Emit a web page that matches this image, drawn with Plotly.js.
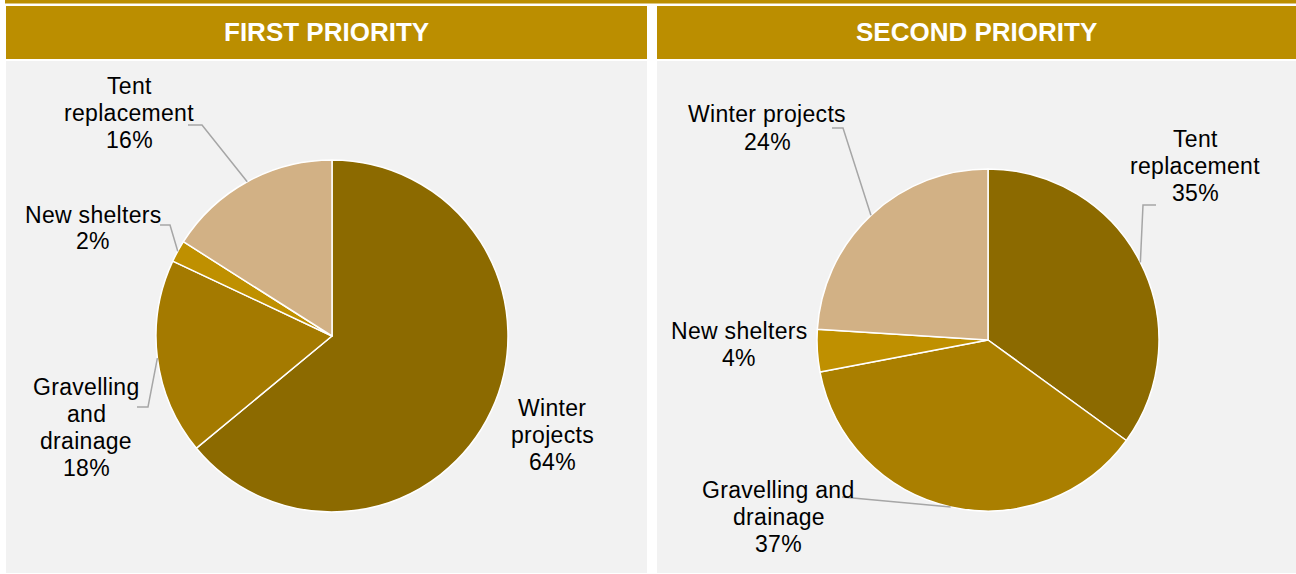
<!DOCTYPE html>
<html>
<head>
<meta charset="utf-8">
<script src="https://cdn.plot.ly/plotly-3.0.1.min.js"></script>
<style>html,body{margin:0;padding:0;background:#fff;}#chart{width:1296px;height:574px;}</style>
</head>
<body>
<div id="chart"></div>
<script>
// ---- Data ----
const categoriesFirst = ['Winter projects', 'Gravelling and drainage', 'New shelters', 'Tent replacement'];
const valuesFirst = [64, 18, 2, 16];
const labelLinesFirst = [['Winter', 'projects'], ['Gravelling', 'and', 'drainage'], ['New shelters'], ['Tent', 'replacement']];

const categoriesSecond = ['Tent replacement', 'Gravelling and drainage', 'New shelters', 'Winter projects'];
const valuesSecond = [35, 37, 4, 24];
const labelLinesSecond = [['Tent', 'replacement'], ['Gravelling and', 'drainage'], ['New shelters'], ['Winter projects']];

const panelTitles = ['FIRST PRIORITY', 'SECOND PRIORITY'];

// ---- Layout constants (pixels) ----
const W = 1296, H = 574;
const px = x => x / W;
const py = y => 1 - y / H;

const colorsFirst = ['#8C6A00', '#A47A00', '#BF9000', '#D2B185'];
const colorsSecond = ['#8C6A00', '#AA7F00', '#BF9000', '#D2B185'];
const gold = '#BB8E00';
const panelGray = '#F2F2F2';
const lineGray = '#A6A6A6';
const fontFam = 'Liberation Sans, Arial, sans-serif';
const lineStep = 27;

const pies = [
  {cx: 332, cy: 336, r: 176, cats: categoriesFirst, vals: valuesFirst, lines: labelLinesFirst, colors: colorsFirst,
   labelPos: [[552, 435], [86, 427], [93, 228], [129, 113]],
   leader: [null, [[137, 407], [148, 407]], [[160, 225], [170, 225]], [[188, 125], [202, 125]]]},
  {cx: 988, cy: 340, r: 171, cats: categoriesSecond, vals: valuesSecond, lines: labelLinesSecond, colors: colorsSecond,
   labelPos: [[1195, 166], [779, 517], [739, 344], [767, 128]],
   leader: [[[1156, 205], [1143, 205]], [[842, 497]], null, [[832, 128], [843, 128]]]}
];

const traces = pies.map(p => ({
  type: 'pie',
  labels: p.cats,
  values: p.vals,
  sort: false,
  direction: 'clockwise',
  rotation: 0,
  textinfo: 'none',
  hoverinfo: 'label+percent',
  marker: {colors: p.colors, line: {color: '#FFFFFF', width: 1.5}},
  domain: {x: [px(p.cx - p.r), px(p.cx + p.r)], y: [py(p.cy + p.r), py(p.cy - p.r)]}
}));

const shapes = [
  {type: 'rect', xref: 'paper', yref: 'paper', x0: px(5), x1: px(1296), y0: py(3.5), y1: py(0), fillcolor: gold, line: {width: 0}, layer: 'below'},
  {type: 'rect', xref: 'paper', yref: 'paper', x0: px(6), x1: px(647), y0: py(59), y1: py(6), fillcolor: gold, line: {width: 0}, layer: 'below'},
  {type: 'rect', xref: 'paper', yref: 'paper', x0: px(657), x1: px(1296), y0: py(59), y1: py(6), fillcolor: gold, line: {width: 0}, layer: 'below'},
  {type: 'rect', xref: 'paper', yref: 'paper', x0: px(6), x1: px(647), y0: py(573), y1: py(61), fillcolor: panelGray, line: {width: 0}, layer: 'below'},
  {type: 'rect', xref: 'paper', yref: 'paper', x0: px(657), x1: px(1296), y0: py(573), y1: py(61), fillcolor: panelGray, line: {width: 0}, layer: 'below'}
];

const annotations = [
  {text: '<b>' + panelTitles[0] + '</b>', x: px(326.5), y: py(32), xref: 'paper', yref: 'paper', showarrow: false,
   xanchor: 'center', yanchor: 'middle', font: {family: fontFam, size: 26, color: '#FFFFFF'}},
  {text: '<b>' + panelTitles[1] + '</b>', x: px(976.5), y: py(32), xref: 'paper', yref: 'paper', showarrow: false,
   xanchor: 'center', yanchor: 'middle', font: {family: fontFam, size: 26, color: '#FFFFFF'}}
];

pies.forEach(p => {
  const total = p.vals.reduce((a, b) => a + b, 0);
  let cum = 0;
  p.vals.forEach((v, i) => {
    const mid = (cum + v / 2) / total * 2 * Math.PI;
    cum += v;
    const ex = p.cx + p.r * Math.sin(mid);
    const ey = p.cy - p.r * Math.cos(mid);
    const pct = Math.round(v / total * 100) + '%';
    const lines = p.lines[i].concat([pct]);
    const n = lines.length;
    lines.forEach((t, k) => {
      const ly = p.labelPos[i][1] + (k - (n - 1) / 2) * lineStep;
      annotations.push({
        text: '<span style="letter-spacing:0.3px">' + t + '</span>',
        x: px(p.labelPos[i][0]), y: py(ly), xref: 'paper', yref: 'paper',
        showarrow: false, xanchor: 'center', yanchor: 'middle', align: 'center',
        font: {family: fontFam, size: 23, color: '#000000'}
      });
    });
    if (p.leader[i]) {
      const pts = p.leader[i].concat([[ex, ey]]);
      const path = pts.map((q, k) => (k === 0 ? 'M' : 'L') + px(q[0]) + ',' + py(q[1])).join(' ');
      shapes.push({type: 'path', xref: 'paper', yref: 'paper', path: path, line: {color: lineGray, width: 1.5}, layer: 'above'});
    }
  });
});

const layout = {
  width: W, height: H,
  margin: {l: 0, r: 0, t: 0, b: 0},
  paper_bgcolor: '#FFFFFF',
  showlegend: false,
  shapes: shapes,
  annotations: annotations,
  font: {family: fontFam}
};

Plotly.newPlot('chart', traces, layout, {displayModeBar: false, staticPlot: true});
</script>
</body>
</html>
